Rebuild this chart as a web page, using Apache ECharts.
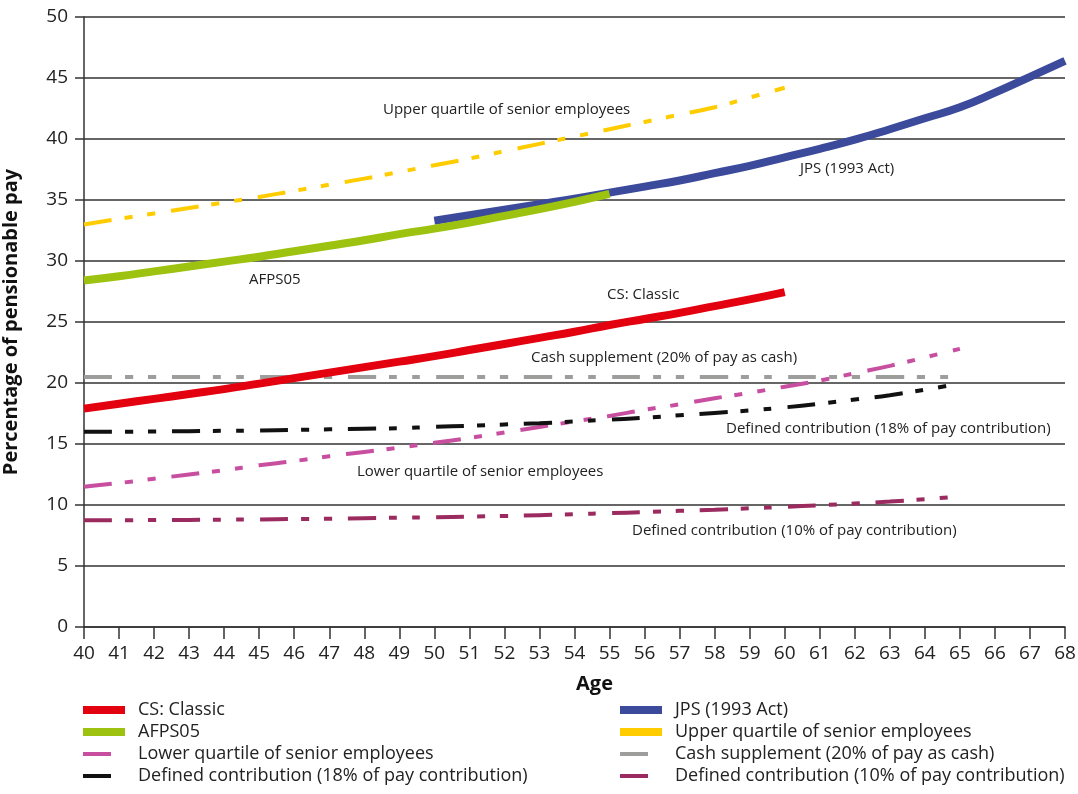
<!DOCTYPE html>
<html>
<head>
<meta charset="utf-8">
<script src="https://cdn.jsdelivr.net/npm/echarts@6/dist/echarts.min.js"></script>
<style>html,body{margin:0;padding:0;background:#fff;}#c{width:1078px;height:794px;}</style>
</head>
<body>
<div id="c"></div>
<script>
var ages = [40,41,42,43,44,45,46,47,48,49,50,51,52,53,54,55,56,57,58,59,60,61,62,63,64,65,66,67,68];
var csClassic = [17.9,18.3,18.7,19.1,19.5,19.95,20.4,20.85,21.3,21.75,22.2,22.7,23.2,23.7,24.2,24.75,25.25,25.75,26.3,26.85,27.45];
var afps05 = [28.4,28.75,29.15,29.55,29.95,30.35,30.8,31.25,31.7,32.2,32.65,33.15,33.7,34.25,34.85,35.5];
var jpsAges = [50,51,52,53,54,55,56,57,58,59,60,61,62,63,64,65,66,67,68];
var jps = [33.3,33.75,34.2,34.65,35.1,35.6,36.1,36.6,37.2,37.8,38.5,39.2,39.95,40.8,41.7,42.6,43.8,45.1,46.4];
var upperQuartile = [33.0,33.45,33.9,34.35,34.8,35.25,35.75,36.25,36.75,37.3,37.85,38.4,39.0,39.6,40.2,40.8,41.4,42.0,42.6,43.4,44.2];
var lowerQuartile = [11.5,11.8,12.15,12.5,12.85,13.25,13.6,14.0,14.35,14.7,15.1,15.5,15.95,16.4,16.85,17.3,17.8,18.25,18.75,19.2,19.7,20.2,20.8,21.4,22.1,22.8];
var cashSupplement = [20.5,20.5,20.5,20.5,20.5,20.5,20.5,20.5,20.5,20.5,20.5,20.5,20.5,20.5,20.5,20.5,20.5,20.5,20.5,20.5,20.5,20.5,20.5,20.5,20.5,20.5];
var dc18 = [16.0,16.0,16.03,16.05,16.08,16.1,16.15,16.2,16.25,16.3,16.4,16.5,16.6,16.7,16.85,17.0,17.15,17.35,17.55,17.75,18.0,18.3,18.65,19.0,19.45,19.95];
var dc10 = [8.75,8.75,8.77,8.78,8.8,8.82,8.85,8.88,8.92,8.96,9.0,9.05,9.1,9.17,9.25,9.33,9.42,9.52,9.62,9.73,9.85,9.98,10.12,10.28,10.48,10.7];

var names = {
  cs: 'CS: Classic', afps: 'AFPS05', jps: 'JPS (1993 Act)', uq: 'Upper quartile of senior employees',
  lq: 'Lower quartile of senior employees', cash: 'Cash supplement (20% of pay as cash)',
  dc18: 'Defined contribution (18% of pay contribution)', dc10: 'Defined contribution (10% of pay contribution)'
};

function pairs(xs, ys) { return ys.map(function (v, i) { return [xs[i], v]; }); }

var FONT = '"Open Sans", "Noto Sans", sans-serif';
var dashPat = [28, 13, 8, 15, 8, 16];

function solid(name, xs, ys, color) {
  return { name: name, type: 'line', data: pairs(xs, ys), smooth: true, showSymbol: false,
    color: color, lineStyle: { color: color, width: 8, cap: 'butt' }, z: 3 };
}
function dashed(name, xs, ys, color) {
  return { name: name, type: 'line', data: pairs(xs, ys), smooth: true, showSymbol: false,
    color: color, lineStyle: { color: color, width: 4, type: dashPat, cap: 'butt' }, z: 2 };
}

function legendBlock(left, top, data, w, h, padLeft) {
  return { orient: 'vertical', left: left, top: top, data: data, icon: 'rect', itemWidth: w, itemHeight: h,
    itemGap: 4, selectedMode: false, padding: 0,
    textStyle: { fontFamily: FONT, fontSize: 18, color: '#222', padding: [0, 0, 0, padLeft] } };
}

function annot(x, y, text) {
  return { type: 'text', left: x, top: y, style: { text: text, fontFamily: FONT, fontSize: 15, fill: '#222' } };
}

var chart = echarts.init(document.getElementById('c'));
chart.setOption({
  animation: false,
  backgroundColor: '#fff',
  grid: { left: 84, right: 13, top: 17, bottom: 167, outerBoundsMode: 'none', containLabel: false },
  xAxis: {
    type: 'value', min: 40, max: 68, interval: 1,
    name: 'Age', nameLocation: 'middle', nameGap: 47,
    nameTextStyle: { fontFamily: FONT, fontSize: 20, fontWeight: 'bold', color: '#111', padding: [0, 0, 0, 40] },
    axisLine: { show: true, lineStyle: { color: '#333', width: 1.5 } },
    axisTick: { show: true, length: 12, lineStyle: { color: '#333', width: 1.5 } },
    axisLabel: { fontFamily: FONT, fontSize: 19, color: '#222', margin: 17 },
    splitLine: { show: false }
  },
  yAxis: {
    type: 'value', min: 0, max: 50, interval: 5,
    name: 'Percentage of pensionable pay', nameLocation: 'middle', nameGap: 63,
    nameTextStyle: { fontFamily: FONT, fontSize: 20, fontWeight: 'bold', color: '#111' },
    axisLine: { show: true, lineStyle: { color: '#333', width: 1.5 } },
    axisTick: { show: true, length: 9, lineStyle: { color: '#333', width: 1.5 } },
    axisLabel: { fontFamily: FONT, fontSize: 19, color: '#222', margin: 16 },
    splitLine: { show: true, lineStyle: { color: '#333', width: 1.5 } }
  },
  legend: [
    legendBlock(83, 701, [names.cs, names.afps], 42, 8, 8),
    legendBlock(83, 745, [names.lq, names.dc18], 28, 4, 22),
    legendBlock(620, 701, [names.jps, names.uq], 42, 8, 8),
    legendBlock(620, 745, [names.cash, names.dc10], 28, 4, 22)
  ],
  series: [
    solid(names.cs, ages, csClassic, '#e3000f'),
    solid(names.jps, jpsAges, jps, '#3b4a9b'),
    solid(names.afps, ages, afps05, '#9dc20f'),
    dashed(names.uq, ages, upperQuartile, '#ffcc00'),
    dashed(names.cash, ages, cashSupplement, '#9d9d9c'),
    dashed(names.lq, ages, lowerQuartile, '#c84fa0'),
    dashed(names.dc18, ages, dc18, '#111111'),
    dashed(names.dc10, ages, dc10, '#9b2a5f')
  ],
  graphic: [
    annot(383, 102, 'Upper quartile of senior employees'),
    annot(800, 161, 'JPS (1993 Act)'),
    annot(249, 272, 'AFPS05'),
    annot(607, 287, 'CS: Classic'),
    annot(531, 350, 'Cash supplement (20% of pay as cash)'),
    annot(726, 421, 'Defined contribution (18% of pay contribution)'),
    annot(357, 464, 'Lower quartile of senior employees'),
    annot(632, 523, 'Defined contribution (10% of pay contribution)')
  ]
});
</script>
</body>
</html>
